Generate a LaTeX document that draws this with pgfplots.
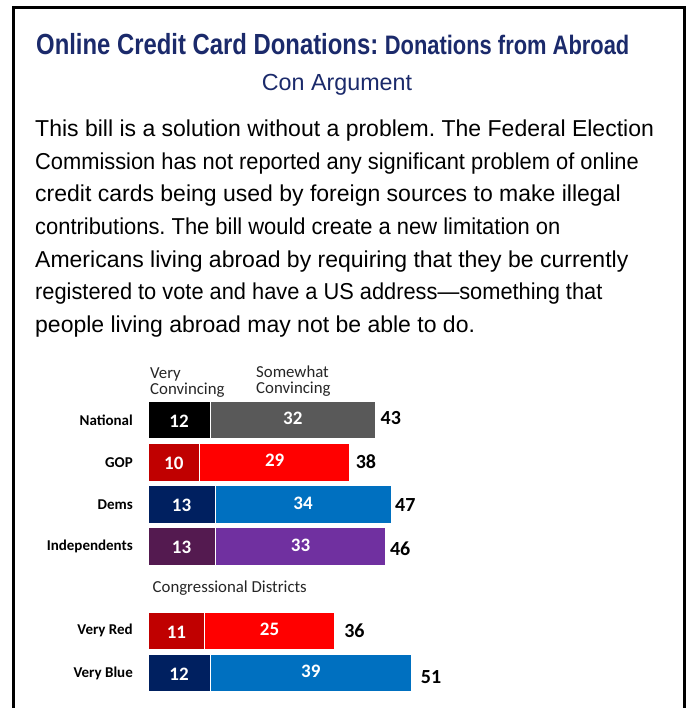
\documentclass[border=0pt]{standalone}
\usepackage{pgfplots}
\pgfplotsset{compat=1.18}
\usepackage{fontspec}
\setmainfont{Liberation Sans}
\newfontfamily\bodyfont{Liberation Sans}
\newfontfamily\titlefont[FakeStretch=0.82]{Liberation Sans}
\newfontfamily\calfont{Carlito}
\definecolor{titleblue}{HTML}{1B2A6B}
\definecolor{natA}{HTML}{000000}
\definecolor{natB}{HTML}{595959}
\definecolor{gopA}{HTML}{C00000}
\definecolor{gopB}{HTML}{FF0000}
\definecolor{demA}{HTML}{002060}
\definecolor{demB}{HTML}{0070C0}
\definecolor{indA}{HTML}{541A50}
\definecolor{indB}{HTML}{7030A0}
\frenchspacing

\pgfplotsset{
  basechart/.style={
    at={(148pt,-398.9pt)}, anchor=north west,
    scale only axis, width=310.2pt, height=295.2pt,
    xmin=0, xmax=60, ymin=-0.5, ymax=6.5, y dir=reverse,
    axis line style={draw=none}, tick style={draw=none},
    xtick=\empty, ytick=\empty,
    clip=false,
    /pgf/number format/assume math mode=true,
  },
  segs/.style={
    basechart, xbar stacked, bar width=37.5pt,
    point meta=explicit,
    every node near coord/.append style={anchor=center, inner sep=0pt, text=white,
      font=\calfont\bfseries\fontsize{19}{19}\selectfont},
  },
  seglabel/.style={nodes near coords={\makebox[0pt]{\raisebox{#1}[0pt][0pt]{\pgfmathprintnumber{\pgfplotspointmeta}}}\vphantom{0}}},
  veryseg/.style={draw=white, line width=0.8pt, fill=#1, seglabel=-1pt},
  somewhatseg/.style={draw=white, line width=0.8pt, fill=#1, seglabel=1.5pt},
}

\begin{document}
\begin{tikzpicture}
\useasboundingbox (0,0) rectangle (693pt,-708pt);
\fill[white] (0,0) rectangle (693pt,-708pt);
% frame
\draw[line width=3pt, black] (13.5pt,-708pt) -- (13.5pt,-7.5pt) -- (684pt,-7.5pt) -- (684pt,-708pt);

% title
\node[anchor=base west, inner sep=0pt, text=titleblue] at (36pt,-55pt)
  {\titlefont\bfseries\fontsize{29.1}{29.1}\selectfont Online Credit Card Donations: {\fontsize{26.7}{26.7}\selectfont Donations from Abroad}};
\node[anchor=base, inner sep=0pt, text=titleblue] at (337pt,-90.5pt)
  {\bodyfont\fontsize{23.3}{23.3}\selectfont Con Argument};

% body text
\begin{scope}[every node/.style={anchor=base west, inner sep=0pt, font=\bodyfont\fontsize{23}{23}\selectfont}]
\node at (35pt,-137pt) {This bill is a solution without a problem. The Federal Election};
\node at (35pt,-169.5pt) {\scalebox{0.95}[1]{Commission has not reported any significant problem of online}};
\node at (35pt,-202pt) {credit cards being used by foreign sources to make illegal};
\node at (35pt,-234.5pt) {\scalebox{0.953}[1]{contributions. The bill would create a new limitation on}};
\node at (35pt,-267pt) {Americans living abroad by requiring that they be currently};
\node at (35pt,-299.5pt) {\scalebox{0.948}[1]{registered to vote and have a US address\textemdash something that}};
\node at (35pt,-332pt) {people living abroad may not be able to do.};
\end{scope}

% column headers
\begin{scope}[every node/.style={anchor=base west, inner sep=0pt, font=\calfont\fontsize{16.8}{16.8}\selectfont, text=black!85}]
\node at (150pt,-378pt) {Very};
\node at (150pt,-394.5pt) {Convincing};
\node at (256pt,-377pt) {Somewhat};
\node at (256pt,-393pt) {Convincing};
\node at (152.5pt,-592pt) {Congressional Districts};
\end{scope}

% National
\begin{axis}[segs]
\addplot[veryseg=natA] table[row sep=\\, x=v, y=pos, meta=v] {pos v\\ 0 12\\};
\addplot[somewhatseg=natB] table[row sep=\\, x=v, y=pos, meta=v] {pos v\\ 0 32\\};
\end{axis}
% GOP and Very Red
\begin{axis}[segs]
\addplot[veryseg=gopA] table[row sep=\\, x=v, y=pos, meta=v] {pos v\\ 1 10\\ 5 11\\};
\addplot[somewhatseg=gopB] table[row sep=\\, x=v, y=pos, meta=v] {pos v\\ 1 29\\ 5 25\\};
\end{axis}
% Dems and Very Blue
\begin{axis}[segs]
\addplot[veryseg=demA] table[row sep=\\, x=v, y=pos, meta=v] {pos v\\ 2 13\\ 6 12\\};
\addplot[somewhatseg=demB] table[row sep=\\, x=v, y=pos, meta=v] {pos v\\ 2 34\\ 6 39\\};
\end{axis}
% Independents
\begin{axis}[segs]
\addplot[veryseg=indA] table[row sep=\\, x=v, y=pos, meta=v] {pos v\\ 3 13\\};
\addplot[somewhatseg=indB] table[row sep=\\, x=v, y=pos, meta=v] {pos v\\ 3 33\\};
\end{axis}
% totals and category labels
\begin{axis}[basechart,
  ytick={0,1,2,3,5,6},
  yticklabels={National,GOP,Dems,Independents,Very Red,Very Blue},
  yticklabel style={font=\calfont\bfseries\fontsize{15}{15}\selectfont, anchor=east, inner sep=0pt, xshift=-15pt}]
\addplot[draw=none, mark=none, nodes near coords, point meta=explicit,
  visualization depends on={\thisrow{dx} \as \dx},
  visualization depends on={\thisrow{dy} \as \dy},
  every node near coord/.append style={anchor=west, inner sep=0pt,
    xshift={\dx*1pt}, yshift={\dy*1pt}, text=black,
    font=\calfont\bfseries\fontsize{20}{20}\selectfont}]
  table[row sep=\\, x=end, y=pos, meta=total]
  {pos end total dx dy\\ 0 44 43 5 2\\ 1 39 38 6 0\\ 2 47 47 4 -1\\ 3 46 46 4 -2\\ 5 36 36 10 0\\ 6 51 51 9 -4\\};
\end{axis}
\end{tikzpicture}
\end{document}
